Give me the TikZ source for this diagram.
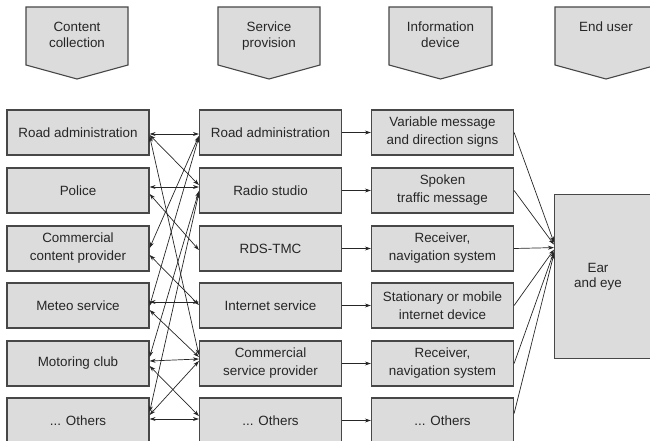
\documentclass[tikz,border=0pt]{standalone}
\usepackage{fontspec}
\setmainfont{Liberation Sans}
\usetikzlibrary{arrows.meta,calc}
\definecolor{boxgray}{HTML}{DCDCDC}
\definecolor{edgegray}{HTML}{474747}
\begin{document}
\begin{tikzpicture}[x=1pt,y=-1pt,
  box/.style={draw=edgegray,line width=1.2pt,fill=boxgray,minimum width=142pt,minimum height=45pt,inner sep=0pt,align=center,font=\fontsize{13.4}{18}\selectfont,text=black!85},
  hdr/.style={draw=edgegray,line width=1.1pt,fill=boxgray},
  htext/.style={align=center,anchor=north,inner sep=0pt,font=\fontsize{13.4}{15.5}\selectfont,text=black!85},
  con/.style={draw=black!85,line width=0.7pt,{Stealth[length=6pt,width=4pt]}-{Stealth[length=6pt,width=4pt]}},
  one/.style={draw=black!85,line width=0.7pt,-{Stealth[length=6pt,width=4pt]}}]
\useasboundingbox (0,0) rectangle (650,441);
% headers
\draw[hdr] (26,7) -- (128,7) -- (128,65) -- (77,79) -- (26,65) -- cycle;
\draw[hdr] (218,7) -- (320,7) -- (320,65) -- (269,79) -- (218,65) -- cycle;
\draw[hdr] (389,7) -- (492,7) -- (492,65) -- (440.5,79) -- (389,65) -- cycle;
\draw[hdr] (555,7) -- (657,7) -- (657,65) -- (606,79) -- (555,65) -- cycle;
\node[htext] (H1) at (77,22) {Content\\collection};
\node[htext] (H2) at (269,22) {Service\\provision};
\node[htext] (H3) at (440.5,22) {Information\\device};
\node[htext] (H4) at (606,22) {End user};
% left column
\node[box] (L1) at (78,132.5) {Road administration};
\node[box] (L2) at (78,190.5) {Police};
\node[box] (L3) at (78,248.5) {Commercial\\content provider};
\node[box] (L4) at (78,305.5) {Meteo service};
\node[box] (L5) at (78,363.5) {Motoring club};
\node[box] (L6) at (78,420.5) {... Others};
% middle column
\node[box] (M1) at (270.5,132.5) {Road administration};
\node[box] (M2) at (270.5,190.5) {Radio studio};
\node[box] (M3) at (270.5,248.5) {RDS-TMC};
\node[box] (M4) at (270.5,305.5) {Internet service};
\node[box] (M5) at (270.5,363.5) {Commercial\\service provider};
\node[box] (M6) at (270.5,420.5) {... Others};
% device column
\node[box] (I1) at (442.5,132.5) {Variable message\\and direction signs};
\node[box] (I2) at (442.5,190.5) {Spoken\\traffic message};
\node[box] (I3) at (442.5,248.5) {Receiver,\\navigation system};
\node[box] (I4) at (442.5,305.5) {Stationary or mobile\\internet device};
\node[box] (I5) at (442.5,363.5) {Receiver,\\navigation system};
\node[box] (I6) at (442.5,420.5) {... Others};
% end user
\node[box,minimum width=120pt,minimum height=164pt,anchor=north west] (E) at (554,194) {};
\node[align=center,inner sep=0pt,font=\fontsize{13.4}{15.5}\selectfont,text=black!85] (Et) at (598,277) {Ear\\and eye};
% content <-> service
\draw[con] ($(L1.east)+(0,1.5)$) -- ($(M1.west)+(0,1.5)$);
\draw[con] ($(L1.east)+(0,2.5)$) -- ($(M2.west)+(0,-5.5)$);
\draw[con] ($(L1.east)+(0,3.5)$) -- ($(M5.west)+(0,-8.5)$);
\draw[con] ($(M1.west)+(0,3.5)$) -- ($(L3.east)+(0,-0.5)$);
\draw[con] ($(M1.west)+(0,4.5)$) -- ($(L4.east)+(0,0.5)$);
\draw[con] ($(L2.east)+(0,-3.5)$) -- ($(M2.west)+(0,-3.5)$);
\draw[con] ($(L2.east)+(0,3.5)$) -- ($(M3.west)+(0,1.5)$);
\draw[con] ($(M2.west)+(0,0.5)$) -- ($(L5.east)+(0,-6.5)$);
\draw[con] ($(M2.west)+(0,2.5)$) -- ($(L6.east)+(0,-8.5)$);
\draw[con] ($(L3.east)+(0,6.5)$) -- ($(M4.west)+(0,-0.5)$);
\draw[con] ($(L4.east)+(0,-3.5)$) -- ($(M4.west)+(0,-3.5)$);
\draw[con] ($(L4.east)+(0,4.5)$) -- ($(M5.west)+(0,-6.5)$);
\draw[con] ($(L5.east)+(0,-2.5)$) -- ($(M5.west)+(0,-4.5)$);
\draw[con] ($(L5.east)+(0,2.5)$) -- ($(M6.west)+(0,-4.5)$);
\draw[con] ($(M5.west)+(0,-2.5)$) -- ($(L6.east)+(0,-5.5)$);
\draw[con] ($(L6.east)+(0,-1.5)$) -- ($(M6.west)+(0,-1.5)$);
% service -> device
\draw[one] (M1) -- (I1);
\draw[one] (M2) -- (I2);
\draw[one] (M3) -- (I3);
\draw[one] (M4) -- (I4);
\draw[one] (M5) -- (I5);
\draw[one] (M6) -- (I6);
% device -> end user
\draw[one] (I1.east) -- ($(E.west)+(0,-34)$);
\draw[one] (I2.east) -- ($(E.west)+(0,-32)$);
\draw[one] (I3.east) -- ($(E.west)+(0,-29)$);
\draw[one] (I4.east) -- ($(E.west)+(0,-27)$);
\draw[one] (I5.east) -- ($(E.west)+(0,-25)$);
\draw[one] ($(I6.east)+(0,-7)$) -- ($(E.west)+(0,-23)$);
\end{tikzpicture}
\end{document}
